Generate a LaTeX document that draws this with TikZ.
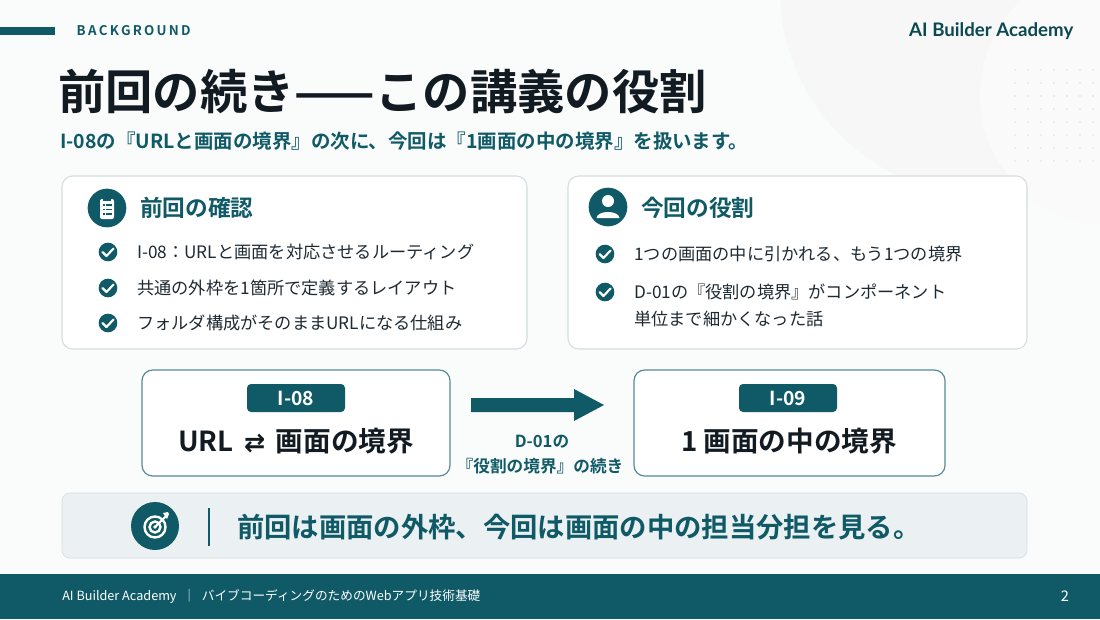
\documentclass[tikz,border=0pt]{standalone}
\usepackage{fontspec}
\setmainfont{Noto Sans CJK JP}[BoldFont={Noto Sans CJK JP Bold}]
\newfontfamily\lat{Lato}
\newfontfamily\dej{DejaVu Sans}
\usetikzlibrary{arrows.meta}
\definecolor{teal}{HTML}{0F5A66}
\definecolor{ink}{HTML}{121A22}
\definecolor{txt}{HTML}{1E2A33}
\definecolor{bord}{HTML}{D5DDE0}
\definecolor{band}{HTML}{EBF1F2}
\definecolor{bg}{HTML}{FAFBFB}
\newcommand{\fs}[1]{\fontsize{#1}{#1}\selectfont}
\begin{document}
\begin{tikzpicture}[x=0.75pt,y=-0.75pt,
  card/.style={draw=bord,line width=0.8pt,fill=white,rounded corners=8pt},
  box/.style={draw=teal!70,line width=0.9pt,fill=white,rounded corners=8pt},
  tag/.style={fill=teal,rounded corners=3pt,minimum width=73.5pt,minimum height=21pt,text=white,font=\bfseries\fs{14.5},inner sep=0pt},
  ic/.style={circle,fill=teal,minimum size=#1,inner sep=0pt},
  chk/.style={circle,fill=teal,minimum size=14pt,inner sep=0pt},
  bul/.style={anchor=west,text=txt,font=\fs{12.9},inner sep=0pt},
  head/.style={anchor=west,text=teal,font=\bfseries\fs{17},inner sep=0pt}]
\useasboundingbox (0,0) rectangle (1100,619);
\fill[bg] (0,0) rectangle (1100,619);
% decor
\fill[gray!6] (985,-10) circle (205);
\fill[gray!4] (1110,95) circle (130);
\foreach \i in {0,...,6} \foreach \j in {0,...,7}
  \fill[gray!25] (1015+\i*13,70+\j*13) circle (0.9);
% header
\fill[teal] (0,27) rectangle (55,35);
\node[anchor=west,text=teal,font=\bfseries\fs{10}] (bk) at (72,31) {B\,A\,C\,K\,G\,R\,O\,U\,N\,D};
\node[anchor=east,text=teal!80!black,font=\lat\bfseries\fs{14}] (brand) at (1078,31) {AI Builder Academy};
\node[anchor=west,text=ink,font=\bfseries\fs{35.5},inner sep=0pt] (title) at (58,92) {前回の続き——この講義の役割};
\node[anchor=west,text=teal,font=\bfseries\fs{14.6},inner sep=0pt] (sub) at (60,141) {I-08の『URLと画面の境界』の次に、今回は『1画面の中の境界』を扱います。};
% left card
\draw[card] (62,176) rectangle (527,349);
\node[ic=29pt] (i1) at (107,208) {};
\fill[white,rounded corners=1.5pt] (100,199) rectangle (114,219);
\fill[teal] (103,197) rectangle (111,201);
\foreach \y in {205,209.5,214}{\fill[teal] (102.5,\y-0.9) rectangle (104.5,\y+0.9);\fill[teal] (106,\y-0.9) rectangle (112,\y+0.9);}
\node[head] (h1) at (140,208) {前回の確認};
\foreach \y/\t [count=\k] in {252/I-08：URLと画面を対応させるルーティング,288/共通の外枠を1箇所で定義するレイアウト,323/フォルダ構成がそのままURLになる仕組み}{
  \node[chk] (c\k) at (108,\y) {};
  \draw[white,line width=1.6pt,line cap=round,line join=round] (102.5,\y) -- (106.5,\y+4) -- (113.5,\y-3.5);
  \node[bul] (b\k) at (137,\y) {\t};}
% right card
\draw[card] (568,176) rectangle (1027,349);
\node[ic=29pt] (i2) at (608,207) {};
\fill[white] (608,201) circle (6);
\fill[white] (596.5,218) .. controls (597,210) and (619,210) .. (619.5,218) -- cycle;
\node[head] (h2) at (641,208) {今回の役割};
\node[chk] (c4) at (605,254) {};
\draw[white,line width=1.6pt,line cap=round,line join=round] (599.5,254) -- (603.5,258) -- (610.5,250.5);
\node[bul] (b4) at (634,254) {1つの画面の中に引かれる、もう1つの境界};
\node[chk] (c5) at (605,292) {};
\draw[white,line width=1.6pt,line cap=round,line join=round] (599.5,292) -- (603.5,296) -- (610.5,288.5);
\node[bul] (b5) at (634,292) {D-01の『役割の境界』がコンポーネント};
\node[bul] (b6) at (634,319) {単位まで細かくなった話};
% boxes
\draw[box] (142,370) rectangle (450,476);
\node[tag] (t1) at (296,398) {I-08};
\node[text=ink,font=\bfseries\fs{20.7},inner sep=0pt] (m1) at (296,441) {URL {\dej\fs{19}\,⇄\,} 画面の境界};
\draw[box] (634,370) rectangle (945,476);
\node[tag] (t2) at (788,398) {I-09};
\node[text=ink,font=\bfseries\fs{20.7},inner sep=0pt] (m2) at (789,441) {1 画面の中の境界};
\coordinate (a0) at (471,405);
\coordinate (a1) at (604,405);
\fill[teal] (471,398) -- (574,398) -- (574,389) -- (604,405) -- (574,421) -- (574,412) -- (471,412) -- cycle;
\node[text=teal,font=\bfseries\fs{12.5},inner sep=0pt] (l1) at (542,442) {D-01の};
\node[text=teal,font=\bfseries\fs{12.5},inner sep=0pt] (l2) at (540,466) {『役割の境界』の続き};
% banner
\fill[band,rounded corners=6pt] (62,493) rectangle (1027,558);
\draw[bord,rounded corners=6pt,line width=0.5pt] (62,493) rectangle (1027,558);
\node[ic=36pt] (tg) at (155,526) {};
\draw[white,line width=1.8pt] (155,527) circle (10.5);
\draw[white,line width=1.8pt] (155,527) circle (5.5);
\fill[white] (155,527) circle (1.8);
\draw[white,line width=1.6pt,line cap=round] (155,527) -- (166,516);
\fill[white] (163,513) -- (168,512) -- (169,514) -- (167,519) -- cycle;
\draw[teal,line width=1pt] (209,508) -- (209,546);
\node[anchor=west,text=teal,font=\bfseries\fs{20.5},inner sep=0pt] (msg) at (237,527) {前回は画面の外枠、今回は画面の中の担当分担を見る。};
% footer
\fill[teal] (0,574) rectangle (1100,619);
\node[anchor=west,text=white,font=\fs{9.5},inner sep=0pt] (ft) at (62,596) {AI Builder Academy\enspace｜\enspace バイブコーディングのためのWebアプリ技術基礎};
\node[text=white,font=\fs{11},inner sep=0pt] (pg) at (1065,596) {2};
\end{tikzpicture}
\end{document}
